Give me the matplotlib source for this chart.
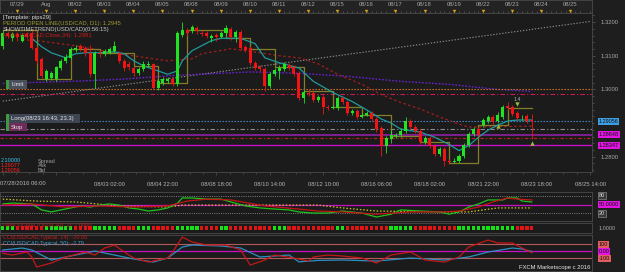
import numpy as np
import matplotlib.pyplot as plt
from matplotlib.patches import Rectangle

plt.rcParams['font.family'] = 'Liberation Sans'

# ---- USD/CAD H4 candles ----
opens = [1.3130, 1.3167, 1.3152, 1.3164, 1.3145, 1.3164, 1.3167, 1.3124, 1.3091, 1.3030,
         1.3033, 1.3030, 1.3064, 1.3085, 1.3094, 1.3118, 1.3130, 1.3124, 1.3109, 1.3045,
         1.3109, 1.3106, 1.3109, 1.3115, 1.3109, 1.3085, 1.3076, 1.3064, 1.3048, 1.3061,
         1.3073, 1.3076, 1.3003, 1.3018, 1.3024, 1.3030, 1.3015, 1.3161, 1.3176, 1.3173,
         1.3182, 1.3167, 1.3167, 1.3152, 1.3161, 1.3155, 1.3167, 1.3179, 1.3155, 1.3170,
         1.3127, 1.3124, 1.3079, 1.3067, 1.3061, 1.3009, 1.3045, 1.3055, 1.3061, 1.3073,
         1.3067, 1.3048, 1.2973, 1.2988, 1.2988, 1.2970, 1.2976, 1.2948, 1.2945, 1.2945,
         1.2973, 1.2964, 1.2930, 1.2936, 1.2918, 1.2924, 1.2930, 1.2912, 1.2885, 1.2833,
         1.2852, 1.2861, 1.2864, 1.2876, 1.2906, 1.2888, 1.2876, 1.2845, 1.2855, 1.2833,
         1.2809, 1.2824, 1.2788, 1.2785, 1.2788, 1.2803, 1.2836, 1.2867, 1.2882, 1.2894,
         1.2906, 1.2918, 1.2906, 1.2918, 1.2952, 1.2948, 1.2930, 1.2917, 1.2921, 1.2909]
highs = [1.3176, 1.3173, 1.3170, 1.3170, 1.3167, 1.3170, 1.3176, 1.3130, 1.3097, 1.3061,
         1.3055, 1.3070, 1.3091, 1.3106, 1.3127, 1.3133, 1.3136, 1.3130, 1.3133, 1.3115,
         1.3118, 1.3121, 1.3127, 1.3145, 1.3115, 1.3091, 1.3085, 1.3070, 1.3067, 1.3085,
         1.3085, 1.3079, 1.3030, 1.3036, 1.3036, 1.3036, 1.3173, 1.3200, 1.3182, 1.3191,
         1.3188, 1.3176, 1.3173, 1.3164, 1.3167, 1.3173, 1.3191, 1.3185, 1.3176, 1.3176,
         1.3133, 1.3130, 1.3085, 1.3073, 1.3067, 1.3052, 1.3064, 1.3073, 1.3082, 1.3079,
         1.3073, 1.3055, 1.2997, 1.3000, 1.2994, 1.2982, 1.2982, 1.2955, 1.2955, 1.2979,
         1.2979, 1.2970, 1.2942, 1.2942, 1.2930, 1.2936, 1.2936, 1.2918, 1.2891, 1.2861,
         1.2879, 1.2870, 1.2885, 1.2918, 1.2912, 1.2894, 1.2882, 1.2861, 1.2861, 1.2839,
         1.2830, 1.2830, 1.2794, 1.2797, 1.2809, 1.2842, 1.2873, 1.2888, 1.2888, 1.2915,
         1.2924, 1.2924, 1.2933, 1.2955, 1.2964, 1.2955, 1.2936, 1.2924, 1.2927, 1.2927]
lows = [1.3121, 1.3152, 1.3145, 1.3145, 1.3142, 1.3152, 1.3121, 1.3076, 1.3033, 1.3024,
        1.3027, 1.3024, 1.3058, 1.3079, 1.3091, 1.3112, 1.3115, 1.3100, 1.3036, 1.3003,
        1.3097, 1.3100, 1.3106, 1.3109, 1.3079, 1.3055, 1.3058, 1.3039, 1.3042, 1.3055,
        1.3067, 1.3000, 1.2997, 1.3012, 1.3018, 1.3009, 1.3009, 1.3155, 1.3158, 1.3167,
        1.3164, 1.3158, 1.3152, 1.3142, 1.3145, 1.3152, 1.3161, 1.3148, 1.3142, 1.3118,
        1.3112, 1.3073, 1.3058, 1.3055, 1.2994, 1.3003, 1.3039, 1.3030, 1.3055, 1.3058,
        1.3039, 1.2970, 1.2961, 1.2979, 1.2964, 1.2964, 1.2927, 1.2939, 1.2942, 1.2939,
        1.2958, 1.2924, 1.2924, 1.2912, 1.2915, 1.2921, 1.2906, 1.2873, 1.2803, 1.2812,
        1.2842, 1.2855, 1.2858, 1.2870, 1.2882, 1.2870, 1.2839, 1.2839, 1.2827, 1.2803,
        1.2803, 1.2773, 1.2779, 1.2782, 1.2782, 1.2797, 1.2830, 1.2861, 1.2858, 1.2888,
        1.2900, 1.2897, 1.2900, 1.2912, 1.2939, 1.2921, 1.2909, 1.2909, 1.2900, 1.2852]
closes = [1.3167, 1.3158, 1.3164, 1.3155, 1.3161, 1.3155, 1.3124, 1.3085, 1.3039, 1.3055,
          1.3048, 1.3067, 1.3085, 1.3097, 1.3121, 1.3124, 1.3121, 1.3109, 1.3045, 1.3109,
          1.3106, 1.3115, 1.3121, 1.3130, 1.3085, 1.3064, 1.3067, 1.3048, 1.3061, 1.3076,
          1.3076, 1.3003, 1.3024, 1.3030, 1.3030, 1.3015, 1.3167, 1.3176, 1.3167, 1.3185,
          1.3173, 1.3164, 1.3158, 1.3158, 1.3155, 1.3167, 1.3182, 1.3155, 1.3170, 1.3124,
          1.3118, 1.3079, 1.3064, 1.3061, 1.3009, 1.3045, 1.3058, 1.3064, 1.3076, 1.3064,
          1.3045, 1.2973, 1.2991, 1.2985, 1.2970, 1.2976, 1.2948, 1.2945, 1.2948, 1.2973,
          1.2964, 1.2930, 1.2936, 1.2918, 1.2924, 1.2930, 1.2912, 1.2882, 1.2833, 1.2855,
          1.2864, 1.2864, 1.2876, 1.2906, 1.2888, 1.2876, 1.2845, 1.2855, 1.2833, 1.2809,
          1.2824, 1.2788, 1.2785, 1.2788, 1.2803, 1.2836, 1.2867, 1.2882, 1.2864, 1.2909,
          1.2918, 1.2903, 1.2924, 1.2948, 1.2945, 1.2927, 1.2915, 1.2918, 1.2906, 1.2906]

# overlays on the price chart (candle index, price)
teal_idx = [6, 8, 10, 13, 15, 17, 20, 23, 25, 27, 29, 32, 34, 36, 37, 39, 41, 43, 45, 49,
            52, 54, 57, 61, 64, 68, 72, 75, 78, 80, 82, 86, 89, 92, 94, 96, 98, 100, 102, 104,
            106, 109]
teal_val = [1.3152, 1.3127, 1.3109, 1.3094, 1.3106, 1.3109, 1.3109, 1.3112, 1.3106, 1.3085,
            1.3070, 1.3055, 1.3045, 1.3055, 1.3085, 1.3115, 1.3130, 1.3145, 1.3152, 1.3152,
            1.3136, 1.3094, 1.3079, 1.3064, 1.3024, 1.2991, 1.2964, 1.2939, 1.2912, 1.2900,
            1.2882, 1.2873, 1.2858, 1.2836, 1.2818, 1.2833, 1.2858, 1.2879, 1.2894, 1.2906,
            1.2909, 1.2909]
mva_idx = [4, 7, 15, 24, 34, 39, 41, 47, 53, 57, 61, 65, 69, 74, 78, 82, 86, 90, 94, 96, 109]
mva_val = [1.3148, 1.3145, 1.3130, 1.3106, 1.3085, 1.3091, 1.3106, 1.3121, 1.3109, 1.3100,
           1.3094, 1.3076, 1.3045, 1.3015, 1.2985, 1.2961, 1.2942, 1.2918, 1.2897, 1.2888, 1.2891]
step_idx = [0, 7, 14, 20, 27, 32, 38, 46, 51, 56, 62, 68, 74, 80, 86, 92, 98, 104, 109]
step_val = [1.3176, 1.3030, 1.3121, 1.3109, 1.3070, 1.3018, 1.3176, 1.3152, 1.3121, 1.3067,
            1.2994, 1.2948, 1.2924, 1.2861, 1.2845, 1.2782, 1.2894, 1.2945, 1.2945]
pur_idx = [0, 14, 24, 36, 51, 61, 71, 82, 92, 102, 109]
pur_val = [1.3018, 1.3024, 1.3030, 1.3042, 1.3052, 1.3048, 1.3039, 1.3024, 1.3015, 1.3000, 1.2994]
trend_idx = [0, 121]
trend_val = [1.2965, 1.3202]
up_idx, up_val = [102, 109], [1.2891, 1.2842]
dn_idx, dn_val = [106], [1.2958]

# horizontal levels
limit_lvl, open_lvl, bid_lvl, stop_lvl = 1.3000, 1.2987, 1.29056, 1.2883
pur_lvl, red_lvl, mag_lvl = 1.28648, 1.2855, 1.28347

# oscillator panel
green_idx = [0, 2, 6, 8, 10, 12, 14, 16, 18, 20, 22, 24, 26, 28, 30, 32, 34, 36, 37, 39,
             42, 45, 47, 50, 53, 56, 59, 61, 64, 67, 70, 74, 77, 80, 82, 86, 90, 92, 94, 96,
             98, 100, 103, 104, 106, 107, 109]
green_val = [52, 55, 52, 31, 24, 31, 38, 45, 41, 48, 52, 48, 38, 34, 27, 31, 38, 55, 73, 73,
             69, 69, 59, 45, 38, 34, 31, 24, 20, 20, 27, 20, 6, 16, 31, 27, 24, 16, 24, 41,
             52, 66, 66, 73, 73, 62, 59]
red_idx = [0, 6, 13, 20, 27, 34, 38, 42, 47, 54, 61, 65, 70, 77, 84, 91, 94, 98, 101, 104, 106, 109]
red_val = [48, 52, 41, 45, 41, 45, 62, 69, 66, 45, 34, 27, 24, 16, 24, 24, 27, 41, 59, 73, 69, 66]
yel_idx = [0, 7, 15, 24, 34, 37, 44, 53, 65, 70, 77, 90, 96, 102, 109]
yel_val = [69, 62, 59, 45, 41, 48, 48, 48, 48, 38, 27, 24, 24, 38, 38]

# signal bar panel (g = green, r = red)
signal = ("ggg" "rrrrrr" "gggggg" "rrrr" "ggggg" "rrrr" "ggg" "rrrrr" "ggggg" "rrrr" "gg"
          "rrrrrrrrr" "ggg" "rrrrrrrrrr" "gg" "rrrrrrrrr" "ggggg" "rrrrrrrrr"
          "gggggggggggg" "rrrr")

# CCI panel
cci14_idx = [0, 2, 4, 5, 6, 7, 10, 13, 17, 19, 21, 23, 26, 27, 30, 34, 35, 37, 39, 42,
             46, 49, 51, 54, 56, 60, 63, 64, 67, 70, 74, 77, 80, 84, 87, 91, 94, 96, 100, 102,
             105, 107, 109]
cci14_val = [-29, -53, -24, -10, -81, -224, -167, -81, -10, -53, 47, 90, -53, -96, -153, -96,
             -10, 204, 133, 90, 90, 19, -196, -124, -53, -96, -139, -81, -53, -67, -96, -167,
             -53, -10, -124, -153, -81, 61, 161, 119, 119, 47, -20]
cci50_idx = [0, 4, 6, 10, 13, 19, 23, 27, 31, 34, 37, 39, 45, 49, 53, 59, 61, 65, 70, 77,
             84, 91, 96, 100, 105, 107, 109]
cci50_val = [19, 47, 19, -124, -81, 4, -53, -110, -153, -96, 61, 90, 76, 47, -81, -53, -150,
             -130, -124, -139, -96, -124, -81, -10, 47, 33, -3]

top_dates = ['07/29', 'Aug', '08/02', '08/03', '08/04', '08/05', '08/08', '08/09', '08/10',
             '08/11', '08/12', '08/15', '08/16', '08/17', '08/18', '08/19', '08/22', '08/23',
             '08/24', '08/25']
bottom_dates = ['', '', '08/03 02:00', '08/04 22:00', '08/08 18:00', '08/10 14:00',
                '08/12 10:00', '08/16 06:00', '08/18 02:00', '08/21 22:00', '08/23 18:00',
                '08/25 14:00']

W, H = 625, 272
BG = '#1e1e1e'
PANEL = '#1b1b1b'
GRID = '#4a4a4a'
TXT = '#a8a8a8'
UP, DOWN = '#1fe41f', '#f01414'
XL = (-0.56, 121.4)

fig = plt.figure(figsize=(W / 100, H / 100), dpi=100, facecolor=BG)


def rect(x0, y0, x1, y1):
    return [x0 / W, 1 - y1 / H, (x1 - x0) / W, (y1 - y0) / H]


def ftext(x, y, s, **kw):
    kw.setdefault('fontsize', 4.2)
    kw.setdefault('va', 'center')
    fig.text(x / W, 1 - y / H, s, **kw)


def style(a, face=PANEL):
    a.set_facecolor(face)
    a.set_xlim(*XL)
    for s in a.spines.values():
        s.set_color(GRID)
        s.set_linewidth(0.6)
    a.tick_params(axis='x', bottom=False, labelbottom=False)
    a.set_yticks([])


def tag(a, y, s, fc, tc='#101010', ec='none'):
    a.text(1.011, y, s, transform=a.get_yaxis_transform(), fontsize=4, color=tc,
           va='center', ha='left', clip_on=False,
           bbox=dict(boxstyle='square,pad=0.18', fc=fc, ec=ec, lw=0.4))


# ---------- top date strip ----------
ax_top = fig.add_axes(rect(0, 0, 592, 13))
style(ax_top, '#232323')
ax_top.set_ylim(0, 1)
top_pos = np.arange(len(top_dates)) * 6 + 2.9
for p, lab in zip(top_pos, top_dates):
    ax_top.text(p, 0.62, lab, ha='center', va='center', fontsize=4.2, color=TXT)
ax_top.scatter(top_pos, [0.17] * len(top_pos), marker='v', s=6, color='#d9a31a', linewidths=0, zorder=3)
ax_top.set_xticks(np.arange(0, 122, 1), minor=True)
ax_top.tick_params(axis='x', which='minor', bottom=True, direction='in', length=1.5, width=0.4, color='#6a6a6a')

# ---------- main price chart ----------
ax = fig.add_axes(rect(0, 14, 592, 172))
style(ax)
ax.set_ylim(1.27545, 1.32242)
ax.spines['left'].set_visible(False)
ax.spines['top'].set_visible(False)

ax.plot(trend_idx, trend_val, color='#8c8c8c', lw=0.8, ls=(0, (1.2, 1.5)))
ax.plot(pur_idx, pur_val, color='#6a22d4', lw=1.0, ls=(0, (1.2, 1.2)))
ax.axhline(limit_lvl, color='#e07a1e', lw=0.8, ls=(0, (1.2, 1.5)))
ax.axhline(open_lvl, color='#d0185a', lw=0.8, ls=(0, (4, 2, 1, 2)))
ax.axhline(bid_lvl, color='#4a90d9', lw=0.8, ls=(0, (1.2, 1.5)))
ax.axhline(stop_lvl, color='#8c8c8c', lw=0.8, ls=(0, (4, 2, 1, 2)))
ax.axhline(pur_lvl, color='#86209a', lw=1.3)
ax.axhline(red_lvl, color='#c41c1c', lw=0.8, ls=(0, (3, 2, 1, 2)))
ax.axhline(mag_lvl, color='#c812c8', lw=1.0)
ax.plot(mva_idx, mva_val, color='#a41e1e', lw=0.9, ls=(0, (2, 2)))
ax.plot(step_idx, step_val, color='#847e2a', lw=0.9, drawstyle='steps-post')
ax.plot(teal_idx, teal_val, color='#1e9a9c', lw=0.9)

xs = np.arange(len(opens))
o, h, l, c = map(np.array, (opens, highs, lows, closes))
cols = np.where(c >= o, UP, DOWN)
ax.vlines(xs, l, h, colors=cols, lw=0.6, zorder=3)
body = np.maximum(np.abs(c - o), 0.00012)
ax.bar(xs, body, bottom=np.minimum(o, c), width=0.62, color=cols, lw=0, zorder=4)

ax.scatter(up_idx, up_val, marker='^', s=10, color='#8fc03c', linewidths=0, zorder=5)
ax.scatter(dn_idx, dn_val, marker='v', s=10, color='#8fc03c', linewidths=0, zorder=5)
ax.text(dn_idx[0], dn_val[0] + 0.00135, '1.4', fontsize=3.8, color='#b0b0b0', ha='center', va='center')

ax.yaxis.tick_right()
ax.set_yticks([1.28, 1.30, 1.31, 1.32])
ax.set_yticklabels(['1.2800', '1.3000', '1.3100', '1.3200'])
ax.set_yticks(np.arange(1.276, 1.3225, 0.002), minor=True)
ax.tick_params(axis='y', which='both', colors='#707070', labelcolor=TXT, labelsize=4.2,
               length=2.5, width=0.4, pad=4)
ax.tick_params(axis='y', which='minor', length=1.3)

ax.set_xticks(np.arange(0, 122, 11))
ax.set_xticklabels(bottom_dates)
ax.set_xticks(np.arange(0, 122, 2.75), minor=True)
ax.tick_params(axis='x', which='both', bottom=True, labelbottom=True, direction='out',
               colors='#606060', labelcolor='#b4b4b4', labelsize=4.2, length=2.5, width=0.4, pad=4.5)
ax.tick_params(axis='x', which='minor', length=1.3)
ax.text(XL[0], -0.075, '07/28/2016 06:00', transform=ax.get_xaxis_transform(), fontsize=4.2,
        color='#b4b4b4', ha='left', va='center')

tag(ax, bid_lvl, '1.29056', '#3d9ee2')
tag(ax, pur_lvl, '1.28648', '#e214e2')
tag(ax, mag_lvl, '1.28347', '#e214e2')

# chart legend text
ftext(3, 17, '[Template: pips29]', color='#d8d8d8')
ftext(3, 23, 'PERIOD OPEN LINE(USD/CAD, D1): 1.2945', color='#9c9a34')
ftext(3, 29, 'SHOWTIMETREND(USD/CAD)(0:56:15)', color='#c8c8c8')
ftext(3, 35, 'MVA(USD/CAD.Close,34): 1.2981', color='#c81c1c')

# order labels
for y0, y1, txt, fc, x1 in [(80, 89, 'Limit', '#4a4f5c', 27),
                            (114, 122.5, 'Long(08/23 16:43, 23.3)', '#3e4452', 80),
                            (123, 131, 'Stop', '#6e2a58', 27)]:
    fig.add_artist(Rectangle((6 / W, 1 - y1 / H), (x1 - 6) / W, (y1 - y0) / H,
                             transform=fig.transFigure, fc=fc, ec='none', zorder=6))
    fig.add_artist(Rectangle((6 / W, 1 - y1 / H), 3 / W, (y1 - y0) / H,
                             transform=fig.transFigure, fc='#3f9a3f', ec='none', zorder=7))
    ftext(11, (y0 + y1) / 2, txt, color='#e6e6e6', zorder=8)

ftext(1, 161, '2.10000', color='#35c4ec', fontsize=4.0)
ftext(38, 161, 'Spread', color='#a0a0a0', fontsize=4.0)
ftext(1, 165.5, '1.29077', color='#ff2020', fontsize=4.0)
ftext(38, 165.5, 'Ask', color='#a0a0a0', fontsize=4.0)
ftext(1, 170, '1.29056', color='#ff2020', fontsize=4.0)
ftext(38, 170, 'Bid', color='#a0a0a0', fontsize=4.0)

# ---------- oscillator panel ----------
ax1 = fig.add_axes(rect(0, 192, 592, 221))
style(ax1)
ax1.set_ylim(-8, 94)
ax1.axhline(80, color='#8a8a8a', lw=0.6, ls=(0, (1.2, 1.5)))
ax1.axhline(20, color='#8a8a8a', lw=0.6, ls=(0, (1.2, 1.5)))
ax1.axhline(50, color='#c412c4', lw=0.9)
ax1.plot(yel_idx, yel_val, color='#cfc21e', lw=0.9, ls=(0, (1.2, 1.5)))
ax1.plot(green_idx, green_val, color='#1cc41c', lw=0.9)
ax1.plot(red_idx, red_val, color='#c41414', lw=0.9)
tag(ax1, 80, '80', '#3a3a3a', tc='#d0d0d0', ec='#9a9a9a')
tag(ax1, 50, '50.0000', '#e214e2')
tag(ax1, 20, '20', '#3a3a3a', tc='#d0d0d0', ec='#9a9a9a')

# ---------- signal bars ----------
ax2 = fig.add_axes(rect(0, 223, 592, 233))
style(ax2)
ax2.set_ylim(0, 1)
sig_cols = ['#14e414' if s == 'g' else '#e41414' for s in signal]
ax2.scatter(np.arange(len(signal)), [0.5] * len(signal), marker='s', s=5.5, c=sig_cols, linewidths=0)
ax2.text(1.011, 0.5, '1.0000', transform=ax2.transAxes, fontsize=4, color=TXT, va='center')
ftext(3, 225.5, 'HMA SIGNAL(USD/CAD, 1): 1.0000', color='#c81c1c', fontsize=4.0)

# ---------- CCI panel ----------
ax3 = fig.add_axes(rect(0, 235, 592, 271))
style(ax3)
ax3.set_ylim(-281, 233)
ax3.axhline(100, color='#b45a5a', lw=0.8)
ax3.axhline(-100, color='#b45a5a', lw=0.8)
ax3.axhline(0, color='#c412c4', lw=0.9)
ax3.plot(cci50_idx, cci50_val, color='#2a90c4', lw=0.9)
ax3.plot(cci14_idx, cci14_val, color='#c41818', lw=0.9)
tag(ax3, 100, '100', '#e25e5e')
tag(ax3, 0, '0.00', '#e214e2')
tag(ax3, -100, '-100', '#e25e5e')
ftext(3, 237.5, 'CCI(USD/CAD,Typical, 14): -20.05', color='#c81c1c', fontsize=4.0)
ftext(3, 243, 'CCI(USD/CAD,Typical, 50): -2.79', color='#3aa4d4', fontsize=4.0)
ftext(590, 267.5, 'FXCM Marketscope c 2016', color='#e8e8e8', ha='right', fontsize=4.2)

fig.savefig('out.png', dpi=100, facecolor=BG)
